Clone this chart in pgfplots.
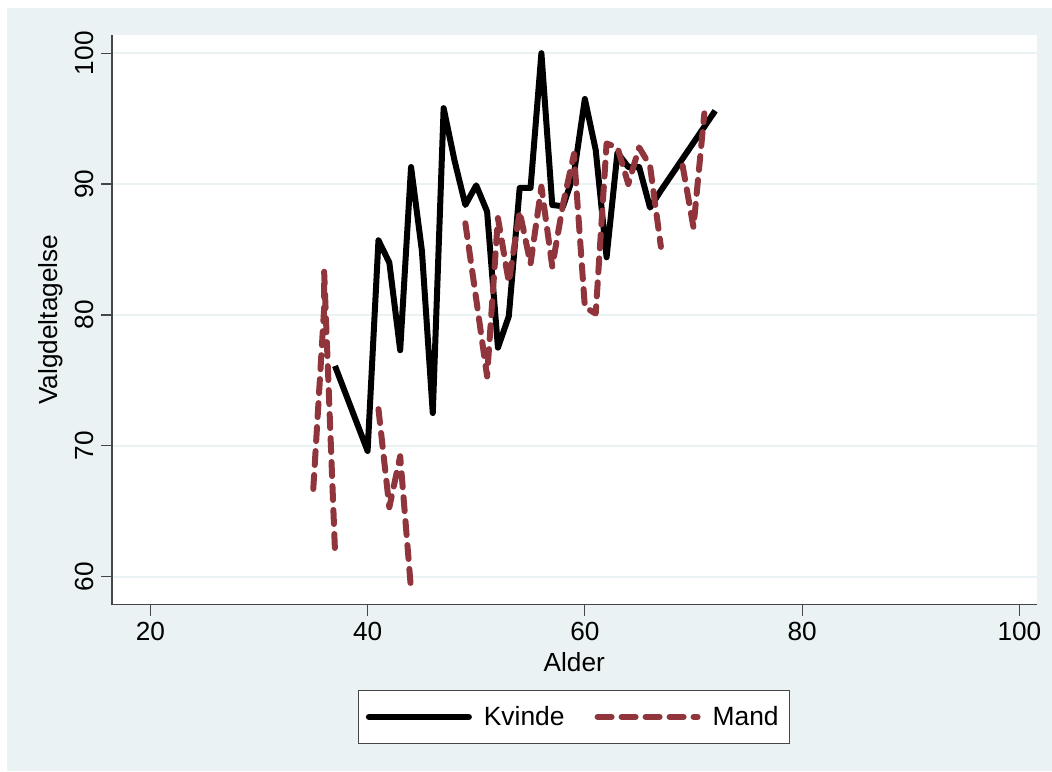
\documentclass[border=0pt]{standalone}
\usepackage{fontspec}
\setmainfont{Liberation Sans}
\usepackage{pgfplots}
\pgfplotsset{compat=1.18}
\definecolor{bg}{RGB}{234,242,243}
\definecolor{maroon}{RGB}{144,53,59}
\definecolor{axgray}{RGB}{70,70,70}
\begin{document}
\begin{tikzpicture}
\fill[white] (0,0) rectangle (526pt,385.5pt);
\fill[bg] (3.5pt,0) rectangle (526pt,381.5pt);
\begin{axis}[
 at={(56pt,83.25pt)}, anchor=south west,
 scale only axis, width=462.25pt, height=284.75pt,
 xmin=16.47, xmax=101.58, ymin=57.87, ymax=101.39,
 axis background/.style={fill=white},
 axis x line*=bottom, axis y line*=left,
 axis line style={axgray, line width=0.6pt, -},
 xtick={20,40,60,80,100}, ytick={60,70,80,90,100},
 tick align=outside, major tick length=5.5pt,
 tick style={axgray, line width=0.6pt},
 ymajorgrids, grid style={bg, line width=1pt},
 font=\fontsize{13.1}{15.5}\selectfont,
 tick label style={font=\fontsize{13.1}{15.5}\selectfont},
 /pgf/number format/assume math mode=true,
 yticklabel style={rotate=90, anchor=south},
 xlabel={Alder}, ylabel={Valgdeltagelse},
 xlabel style={at={(axis description cs:0.5,-0.118)}, anchor=base},
 ylabel style={at={(axis description cs:-0.0665,0.5)}, anchor=center},
 unbounded coords=jump,
 legend columns=2,
 legend style={at={(axis description cs:0.5,-0.1975)}, anchor=center,
   draw=axgray, line width=0.5pt, fill=white, inner xsep=3.5pt, inner ysep=5.5pt,
   font=\fontsize{13.2}{15.5}\selectfont,
   /tikz/every odd column/.append style={column sep=4pt},
   /tikz/every even column/.append style={column sep=13pt}},
 legend image code/.code={\draw[#1, line cap=round] (0pt,0pt) -- (50pt,0pt);},
]
\addplot[black, line width=3pt, line join=round] coordinates {
(37,76.1) (40,69.6) (41,85.7) (42,84.0) (43,77.3) (44,91.3) (45,84.9) (46,72.5)
(47,95.8) (48,91.8) (49,88.4) (50,89.9) (51,87.9) (52,77.5) (53,79.9) (54,89.7)
(55,89.7) (56,100) (57,88.4) (58,88.3) (59,90.8) (60,96.5) (61,92.6) (62,84.4)
(63,92.4) (64,91.3) (65,91.3) (66,88.2) (67,89.5) (72,95.6)
};
\addlegendentry{Kvinde}
\addplot[maroon, line width=3pt, line cap=round, line join=round, dash pattern=on 7pt off 5pt] coordinates {
(35,66.7) (36,80.5) (36,83.3) (37,61.9) (38,nan)
(41,72.8) (42,65.3) (43,69.2) (44,59.0) (45,nan)
(49,87.0) (50,81.2) (51,75.3) (52,87.4) (53,82.5) (54,87.9) (55,83.9) (56,89.8)
(57,83.7) (58,88.5) (59,92.3) (60,80.6) (61,80.1) (62,93.1) (63,92.8) (64,90.0)
(65,92.8) (66,91.4) (67,85.2) (68,nan)
(69,91.4) (70,86.7) (71,95.4)
};
\addlegendentry{Mand}
\end{axis}
\end{tikzpicture}
\end{document}
